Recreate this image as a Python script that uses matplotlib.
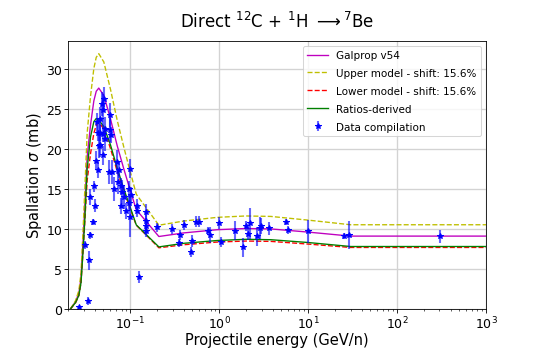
import numpy as np
import matplotlib
matplotlib.use("Agg")
import matplotlib.pyplot as plt

# model curves (energy in GeV/n, cross section in mb)
e_model = [0.0213, 0.0243, 0.0265, 0.028, 0.0296, 0.0309, 0.0328, 0.0358, 0.039, 0.0415,
           0.0443, 0.0505, 0.060, 0.0714, 0.0847, 0.0965, 0.117, 0.21, 0.4, 0.95,
           2.0, 3.8, 10.0, 30.0, 1000.0]
galprop = [0.0, 0.9, 2.0, 3.9, 8.8, 13.0, 19.0, 23.0, 26.0, 27.2,
           27.6, 26.7, 23.75, 20.4, 17.5, 15.4, 12.4, 9.05, 9.5, 9.9,
           10.05, 10.0, 9.6, 9.1, 9.1]
ratios = [0.0, 0.8, 1.7, 3.3, 7.5, 11.2, 17.5, 21.5, 23.4, 23.8,
          23.6, 22.8, 20.5, 17.6, 15.0, 13.2, 10.5, 7.75, 8.2, 8.55,
          8.7, 8.65, 8.3, 7.8, 7.8]
shift = 0.156
upper = np.array(galprop) * (1 + shift)
lower = np.array(galprop) * (1 - shift)

# data compilation
e_data = [0.0265, 0.0334, 0.0343, 0.0307, 0.0349, 0.0380, 0.0397, 0.0349, 0.0390, 0.0436,
          0.0415, 0.0418, 0.0432, 0.0444, 0.0455, 0.0463, 0.0463, 0.0484, 0.0497, 0.0497,
          0.0497, 0.0505, 0.0514, 0.0527, 0.0575, 0.0590, 0.0600, 0.0612, 0.0628, 0.0654,
          0.0714, 0.0725, 0.0745, 0.0778, 0.0778, 0.0813, 0.0847, 0.0886, 0.0965, 0.0965,
          0.0990, 0.0990, 0.1010, 0.1190, 0.1190, 0.1250, 0.1490, 0.1520, 0.1520, 0.1490,
          0.2010, 0.296, 0.351, 0.367, 0.400, 0.484, 0.498, 0.552, 0.600, 0.744,
          0.799, 0.990, 1.04, 1.49, 1.86, 2.02, 2.09, 2.22, 2.67, 2.85,
          2.98, 3.6, 5.7, 5.94, 10.0, 25.0, 28.8, 301.0]
xs_data = [0.2, 1.0, 6.1, 8.0, 9.2, 10.9, 12.9, 14.0, 15.3, 17.3,
           18.5, 23.3, 22.0, 20.4, 23.7, 22.0, 20.5, 25.6, 24.8, 21.9,
           19.2, 26.2, 22.5, 21.2, 17.1, 22.3, 24.2, 21.7, 17.1, 15.0,
           18.3, 15.8, 17.3, 15.4, 12.9, 14.6, 14.0, 12.3, 15.0, 13.3,
           17.5, 11.5, 14.2, 12.9, 12.3, 4.0, 12.1, 11.0, 10.4, 9.8,
           10.2, 10.0, 8.3, 9.25, 10.5, 7.1, 8.5, 10.9, 10.9, 9.8,
           9.25, 10.75, 8.4, 9.8, 7.7, 10.4, 9.4, 10.7, 9.1, 10.1,
           10.4, 10.1, 10.9, 9.9, 9.7, 9.1, 9.2, 9.1]
xs_err = [0.1, 0.5, 1.2, 0.5, 0.4, 0.4, 0.8, 1.0, 0.7, 1.0,
          1.2, 1.2, 1.0, 1.5, 1.5, 1.0, 1.5, 1.5, 2.0, 1.0,
          1.2, 1.5, 1.5, 1.5, 1.5, 1.5, 1.5, 1.0, 1.5, 1.5,
          1.5, 1.5, 1.0, 1.0, 1.0, 1.5, 1.5, 1.0, 1.0, 1.0,
          1.2, 2.5, 1.0, 0.8, 0.8, 0.8, 1.0, 1.2, 1.0, 0.8,
          0.6, 0.6, 0.5, 0.6, 0.6, 0.6, 0.8, 0.7, 0.7, 0.5,
          1.0, 0.7, 0.6, 1.2, 1.2, 0.6, 0.8, 1.9, 1.2, 1.4,
          1.0, 0.8, 0.4, 0.5, 1.4, 0.4, 1.75, 0.8]

fig, ax = plt.subplots(figsize=(7.2, 4.6533), dpi=75)
fig.subplots_adjust(left=0.126, right=0.9, top=0.88, bottom=0.112)

ax.plot(e_model, galprop, color='m', lw=1.3, label='Galprop v54')
ax.plot(e_model, upper, color='y', ls='--', lw=1.3, label='Upper model - shift: 15.6%')
ax.plot(e_model, lower, color='r', ls='--', lw=1.3, label='Lower model - shift: 15.6%')
ax.plot(e_model, ratios, color='g', lw=1.3, label='Ratios-derived')
ax.errorbar(e_data, xs_data, yerr=xs_err, fmt='*', color='blue', ms=5.5,
            ecolor=(0, 0, 1, 0.6), elinewidth=2, label='Data compilation')

ax.set_xscale('log')
ax.set_xlim(0.02, 1000)
ax.set_ylim(0, 33.5)
ax.grid(True, color='#d3d3d3', lw=1.3)
ax.tick_params(labelsize=12, pad=2)
ax.set_xlabel('Projectile energy (GeV/n)', fontsize=14, labelpad=1)
ax.set_ylabel(r'Spallation $\sigma$ (mb)', fontsize=14, labelpad=2)
ax.set_title(r'Direct $^{12}$C + $^{1}$H $\longrightarrow$$^{7}$Be', fontsize=16, pad=13)
ax.legend(loc='upper right', fontsize=10, labelspacing=0.75)

fig.savefig('out.png', dpi=75)
